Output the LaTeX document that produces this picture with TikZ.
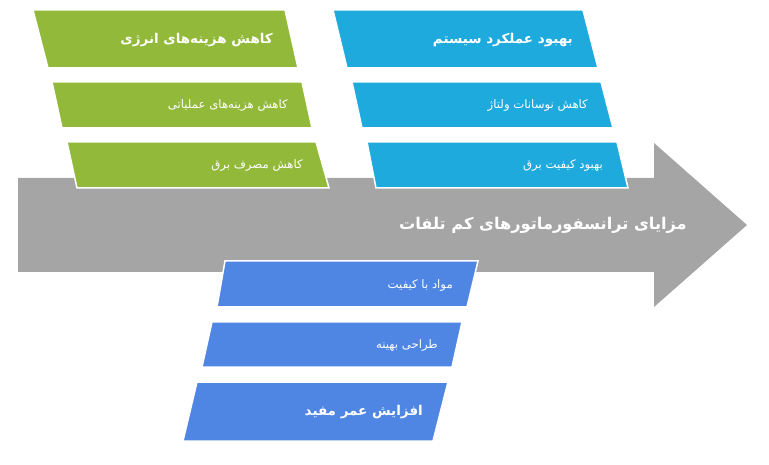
\documentclass[tikz,border=0pt]{standalone}
\usepackage{fontspec}
\newfontfamily\arabicfont[Script=Arabic]{DejaVu Sans}
\TeXXeTstate=1
\definecolor{leafgreen}{RGB}{146,185,58}
\definecolor{skycyan}{RGB}{31,170,221}
\definecolor{royalblue}{RGB}{79,134,227}
\definecolor{arrowgray}{RGB}{165,165,165}
\tikzset{
	box/.style={draw=white, line width=1.5pt, line join=miter},
	itemtext/.style={anchor=east, inner sep=0pt, text=white, font=\arabicfont\fontsize{11.7}{14}\selectfont},
	headtext/.style={itemtext, font=\arabicfont\bfseries\fontsize{13.5}{16}\selectfont}
}
\begin{document}
\begin{tikzpicture}[x=1pt, y=-1pt]
			\useasboundingbox (0,0) rectangle (769,465);
			% main arrow
			\fill[arrowgray] (18,178) -- (654,178) -- (654,143) -- (747,225) -- (654,307) -- (654,272) -- (18,272) -- cycle;
			\node[headtext, font=\arabicfont\bfseries\fontsize{16.2}{19}\selectfont] (main) at (687,225) {\beginR مزایای ترانسفورماتورهای کم تلفات\endR};
			% green column
			\filldraw[box, fill=leafgreen] (33,10) -- (285,10) -- (298,68) -- (48,68) -- cycle;
			\filldraw[box, fill=leafgreen] (52,82) -- (302,82) -- (312,128) -- (62,128) -- cycle;
			\filldraw[box, fill=leafgreen] (67,142) -- (316,142) -- (329,188) -- (77,188) -- cycle;
			\node[headtext] (energy) at (273,40) {\beginR کاهش هزینه‌های انرژی\endR};
			\node[itemtext] (opcost) at (288,105) {\beginR کاهش هزینه‌های عملیاتی\endR};
			\node[itemtext] (power) at (303,165) {\beginR کاهش مصرف برق\endR};
			% cyan column
			\filldraw[box, fill=skycyan] (333,10) -- (583,10) -- (598,68) -- (347,68) -- cycle;
			\filldraw[box, fill=skycyan] (352,82) -- (601,82) -- (613,128) -- (362,128) -- cycle;
			\filldraw[box, fill=skycyan] (367,142) -- (617,142) -- (628,188) -- (376,188) -- cycle;
			\node[headtext] (perform) at (573,40) {\beginR بهبود عملکرد سیستم\endR};
			\node[itemtext] (voltage) at (588,105) {\beginR کاهش نوسانات ولتاژ\endR};
			\node[itemtext] (quality) at (603,165) {\beginR بهبود کیفیت برق\endR};
			% blue column
			\filldraw[box, fill=royalblue] (225,261) -- (478,261) -- (467,307) -- (217,307) -- cycle;
			\filldraw[box, fill=royalblue] (212,322) -- (462,322) -- (452,367) -- (202,367) -- cycle;
			\filldraw[box, fill=royalblue] (197,382) -- (448,382) -- (433,441) -- (183,441) -- cycle;
			\node[itemtext] (material) at (453,285) {\beginR مواد با کیفیت\endR};
			\node[itemtext] (design) at (438,345) {\beginR طراحی بهینه\endR};
			\node[headtext] (life) at (423,412) {\beginR افزایش عمر مفید\endR};
\end{tikzpicture}
\end{document}
